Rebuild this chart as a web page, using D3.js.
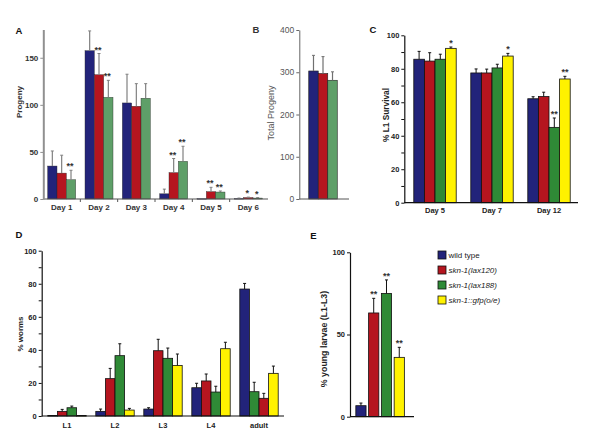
<!DOCTYPE html>
<html><head><meta charset="utf-8">
<script src="https://cdn.jsdelivr.net/npm/d3@7"></script>
<style>body{margin:0;background:#fff}svg{display:block}</style>
</head><body><svg id="c" width="600" height="437"></svg>
<script>
// ---------- DATA ----------
const seriesNames = ["wild type", "skn-1(lax120)", "skn-1(lax188)", "skn-1::gfp(o/e)"];

// Panel A: progeny per day
const daysA = ["Day 1", "Day 2", "Day 3", "Day 4", "Day 5", "Day 6"];
const progenyWT     = [35, 157.5, 102, 5.5, 0.4, 0.5];
const progenyWTErr  = [16, 21, 30.5, 5, 0, 0.5];
const progeny120    = [27.5, 132, 98.5, 28, 7.8, 1.5];
const progeny120Err = [19, 22.5, 24, 15, 4.6, 0.5];
const progeny188    = [20.5, 108, 107, 40, 7.4, 1];
const progeny188Err = [10, 18, 15.5, 16, 1.1, 0.5];
const starsA = [["", "", "**"], ["", "**", "**"], ["", "", ""], ["", "**", "**"], ["", "**", "**"], ["", "*", "*"]];
const ticksA = [0, 50, 100, 150];

// Panel B: total progeny
const totalProgeny    = [303, 297, 281];
const totalProgenyErr = [37, 40, 20];
const ticksB = [0, 100, 200, 300, 400];

// Panel C: % L1 survival
const daysC = ["Day 5", "Day 7", "Day 12"];
const survWT     = [85.7, 77.5, 62.1];
const survWTErr  = [4.7, 2.4, 1.2];
const surv120    = [84.6, 77.5, 63.4];
const surv120Err = [5, 2.3, 2.6];
const surv188    = [85.7, 80.5, 45];
const surv188Err = [3, 2.2, 5.6];
const survOE     = [92.2, 87.6, 73.9];
const survOEErr  = [0.8, 1.6, 1.6];
const starsC = [["", "", "", "*"], ["", "", "", "*"], ["", "", "**", "**"]];

// Panel D: % worms per stage
const stagesD = ["L1", "L2", "L3", "L4", "adult"];
const wormsWT     = [0.3, 2.8, 4.2, 17.1, 76.8];
const wormsWTErr  = [0, 1.4, 0.8, 2.7, 3.4];
const worms120    = [2.8, 22.6, 39.5, 21.2, 10.7];
const worms120Err = [1.2, 6.2, 6.9, 4.2, 3];
const worms188    = [5, 36.5, 34.9, 14.5, 14.7];
const worms188Err = [1, 7.2, 6.2, 3.5, 5.7];
const wormsOE     = [0.3, 3.6, 30.6, 40.7, 25.8];
const wormsOEErr  = [0, 1, 6.9, 3.9, 4.4];
const barOrderD = [[0,1,2,3],[0,1,2,3],[0,1,2,3],[0,1,2,3],[0,2,1,3]];

// Panel E: % young larvae
const youngLarvae    = [6.7, 63.1, 75, 36.1];
const youngLarvaeErr = [1.6, 8.9, 8.2, 6.1];
const starsE = ["", "**", "**", "**"];

const ticks100 = [0, 20, 40, 60, 80, 100];
const minor100 = [10, 30, 50, 70, 90];
const ticksE = [0, 50, 100];

// ---------- STYLE ----------
const F = "'Liberation Sans', Arial, Helvetica, sans-serif";
const cBlue = "#22237a", cRed = "#b5151f", cGreenAB = "#5e9f68", cGreen = "#2f8a36", cYellow = "#fff200";
const colorsAB = [cBlue, cRed, cGreenAB];
const colorsCDE = [cBlue, cRed, cGreen, cYellow];

const svg = d3.select("#c");

function text(x, y, s, o = {}) {
  const t = svg.append("text").attr("x", x).attr("y", y).text(s)
    .attr("font-family", F).attr("font-size", o.fs || 9)
    .attr("font-weight", o.bold ? "bold" : "normal")
    .attr("fill", o.fill || "#222")
    .attr("text-anchor", o.anchor || "middle");
  if (o.rotate) t.attr("transform", `rotate(-90,${x},${y})`);
  if (o.italic) t.attr("font-style", "italic");
  return t;
}

function yAxis(y, x, ticks, o) {
  const g = svg.append("g").attr("transform", `translate(${x},0)`)
    .call(d3.axisLeft(y).tickValues(ticks).tickSize(o.ts || 3).tickSizeOuter(0).tickPadding(o.pad || 2).tickFormat(d3.format("d")));
  g.select(".domain").attr("stroke", o.color).attr("stroke-width", o.w || 1);
  g.selectAll(".tick line").attr("stroke", o.color).attr("stroke-width", 1);
  g.selectAll(".tick text").attr("font-family", F).attr("font-size", o.fs || 9)
    .attr("font-weight", o.bold ? "bold" : "normal").attr("fill", o.tc || "#222");
  if (o.minor) {
    const m = svg.append("g").attr("transform", `translate(${x},0)`)
      .call(d3.axisLeft(y).tickValues(o.minor).tickSize(3).tickSizeOuter(0).tickFormat(""));
    m.select(".domain").remove();
    m.selectAll(".tick line").attr("stroke", o.color);
  }
}

function xBase(x0, x1, yv, color, w) {
  svg.append("line").attr("x1", x0).attr("x2", x1).attr("y1", yv).attr("y2", yv)
    .attr("stroke", color).attr("stroke-width", w || 1);
}

function bar(xl, w, y, v, e, color, o) {
  const top = y(v), base = y(0);
  svg.append("rect").attr("x", xl).attr("y", top).attr("width", w).attr("height", Math.max(0.6, base - top))
    .attr("fill", color).attr("stroke", o.stroke).attr("stroke-width", o.sw);
  const cx = xl + w / 2;
  if (e > 0) {
    svg.append("line").attr("x1", cx).attr("x2", cx).attr("y1", top).attr("y2", y(v + e))
      .attr("stroke", o.ec).attr("stroke-width", o.ew || 1);
    svg.append("line").attr("x1", cx - 1.5).attr("x2", cx + 1.5).attr("y1", y(v + e)).attr("y2", y(v + e))
      .attr("stroke", o.ec).attr("stroke-width", 1);
  }
  if (o.star) text(cx + (o.starDx || 0), y(v + e) - 1, o.star, { fs: 9, bold: true, fill: "#333" });
}

// ---------- PANEL A ----------
{
  const y = d3.scaleLinear().domain([0, 180]).range([199, 29.5]);
  const x0 = d3.scaleBand().domain(daysA).range([43, 267]).paddingInner(0.25).paddingOuter(0.125);
  const x1 = d3.scaleBand().domain([0, 1, 2]).range([0, x0.bandwidth()]);
  const vals = [progenyWT, progeny120, progeny188], errs = [progenyWTErr, progeny120Err, progeny188Err];
  daysA.forEach((d, ci) => {
    [0, 1, 2].forEach(si => {
      bar(x0(d) + x1(si), x1.bandwidth(), y, vals[si][ci], errs[si][ci], colorsAB[si],
        { stroke: "#2a2a2a", sw: 0.4, ec: "#808080", ew: 1.2, star: starsA[ci][si], starDx: -1 });
    });
    text(x0(d) + x0.bandwidth() / 2, 209.5, d, { fs: 8, bold: true, fill: "#333" });
  });
  daysA.slice(1).forEach(d => {
    const xs = x0(d) - x0.step() * 0.125;
    svg.append("line").attr("x1", xs).attr("x2", xs).attr("y1", 199).attr("y2", 202).attr("stroke", "#555");
  });
  xBase(43, 268, 199, "#555", 1.2);
  yAxis(y, 43.3, ticksA, { color: "#909090", w: 2, bold: true, fs: 8, tc: "#333", pad: 2 });
  text(19, 33.5, "A", { fs: 9.5, bold: true, fill: "#111" });
  text(22, 102, "Progeny", { fs: 8, bold: true, fill: "#333", rotate: true });
}

// ---------- PANEL B ----------
{
  const y = d3.scaleLinear().domain([0, 400]).range([199, 30]);
  const x0 = d3.scaleBand().domain(["total"]).range([300, 346]).paddingInner(0.38).paddingOuter(0.19);
  const x1 = d3.scaleBand().domain([0, 1, 2]).range([0, x0.bandwidth()]);
  [0, 1, 2].forEach(si => {
    bar(x0("total") + x1(si), x1.bandwidth(), y, totalProgeny[si], totalProgenyErr[si], colorsAB[si],
      { stroke: "#222", sw: 0.6, ec: "#707070", ew: 1.2 });
  });
  xBase(299.3, 349, 199, "#555", 1);
  yAxis(y, 299.3, ticksB, { color: "#666", w: 1, bold: false, fs: 8.5, tc: "#555", pad: 2 });
  text(256, 32.5, "B", { fs: 9.5, bold: true, fill: "#333" });
  text(274, 113, "Total Progeny", { fs: 9, fill: "#555", rotate: true });
}

// ---------- PANEL C ----------
{
  const y = d3.scaleLinear().domain([0, 100]).range([202.7, 35.3]);
  const x0 = d3.scaleBand().domain(daysC).range([406.5, 577.5]).paddingInner(0.256).paddingOuter(0.128);
  const x1 = d3.scaleBand().domain([0, 1, 2, 3]).range([0, x0.bandwidth()]);
  const vals = [survWT, surv120, surv188, survOE], errs = [survWTErr, surv120Err, surv188Err, survOEErr];
  daysC.forEach((d, ci) => {
    [0, 1, 2, 3].forEach(si => {
      bar(x0(d) + x1(si), x1.bandwidth(), y, vals[si][ci], errs[si][ci], colorsCDE[si],
        { stroke: "#111", sw: 0.8, ec: "#111", ew: 1, star: starsC[ci][si] });
    });
    text(x0(d) + x0.bandwidth() / 2, 213, d, { fs: 7.5, bold: true, fill: "#222" });
  });
  xBase(404.3, 578, 202.7, "#111", 1.2);
  yAxis(y, 404.3, ticks100, { color: "#111", w: 1.2, bold: true, fs: 7.5, tc: "#222", minor: minor100 });
  text(373, 32.5, "C", { fs: 9.5, bold: true, fill: "#111" });
  text(389, 115, "% L1 Survival", { fs: 8.3, bold: true, fill: "#222", rotate: true });
}

// ---------- PANEL D ----------
{
  const y = d3.scaleLinear().domain([0, 100]).range([416, 250.7]);
  const x0 = d3.scaleBand().domain(stagesD).range([43, 283]).paddingInner(0.2).paddingOuter(0.1);
  const x1 = d3.scaleBand().domain([0, 1, 2, 3]).range([0, x0.bandwidth()]);
  const vals = [wormsWT, worms120, worms188, wormsOE], errs = [wormsWTErr, worms120Err, worms188Err, wormsOEErr];
  stagesD.forEach((d, ci) => {
    barOrderD[ci].forEach((si, pos) => {
      bar(x0(d) + x1(pos), x1.bandwidth(), y, vals[si][ci], errs[si][ci], colorsCDE[si],
        { stroke: "#111", sw: 0.8, ec: "#111", ew: 1 });
    });
    text(x0(d) + x0.bandwidth() / 2, 427.5, d, { fs: 7.5, bold: true, fill: "#222" });
  });
  xBase(41.7, 284, 416, "#111", 1.2);
  yAxis(y, 41.7, ticks100, { color: "#111", w: 1.2, bold: true, fs: 7.5, tc: "#222", minor: minor100 });
  text(19, 238, "D", { fs: 9.5, bold: true, fill: "#111" });
  text(23, 334, "% worms", { fs: 8, bold: true, fill: "#222", rotate: true });
}

// ---------- PANEL E ----------
{
  const y = d3.scaleLinear().domain([0, 100]).range([416.7, 252.3]);
  const x = d3.scaleBand().domain(seriesNames).range([352, 408.2]).paddingInner(0.2).paddingOuter(0.3);
  seriesNames.forEach((s, si) => {
    bar(x(s), x.bandwidth(), y, youngLarvae[si], youngLarvaeErr[si], colorsCDE[si],
      { stroke: "#111", sw: 0.8, ec: "#111", ew: 1, star: starsE[si] });
  });
  xBase(350, 414, 416.7, "#111", 1.2);
  yAxis(y, 350, ticksE, { color: "#111", w: 1.2, bold: true, fs: 7.5, tc: "#222" });
  text(313.5, 238.5, "E", { fs: 9.5, bold: true, fill: "#111" });
  text(327, 339, "% young larvae (L1-L3)", { fs: 8.8, bold: true, fill: "#222", rotate: true });

  const ly = d3.scalePoint().domain(seriesNames).range([255, 300]);
  seriesNames.forEach((s, si) => {
    svg.append("rect").attr("x", 438).attr("y", ly(s) - 4).attr("width", 8).attr("height", 8)
      .attr("fill", colorsCDE[si]).attr("stroke", "#111").attr("stroke-width", 0.8);
    text(448.5, ly(s) + 3, s, { fs: 8, anchor: "start", fill: "#222", italic: si > 0 });
  });
}
</script></body></html>
